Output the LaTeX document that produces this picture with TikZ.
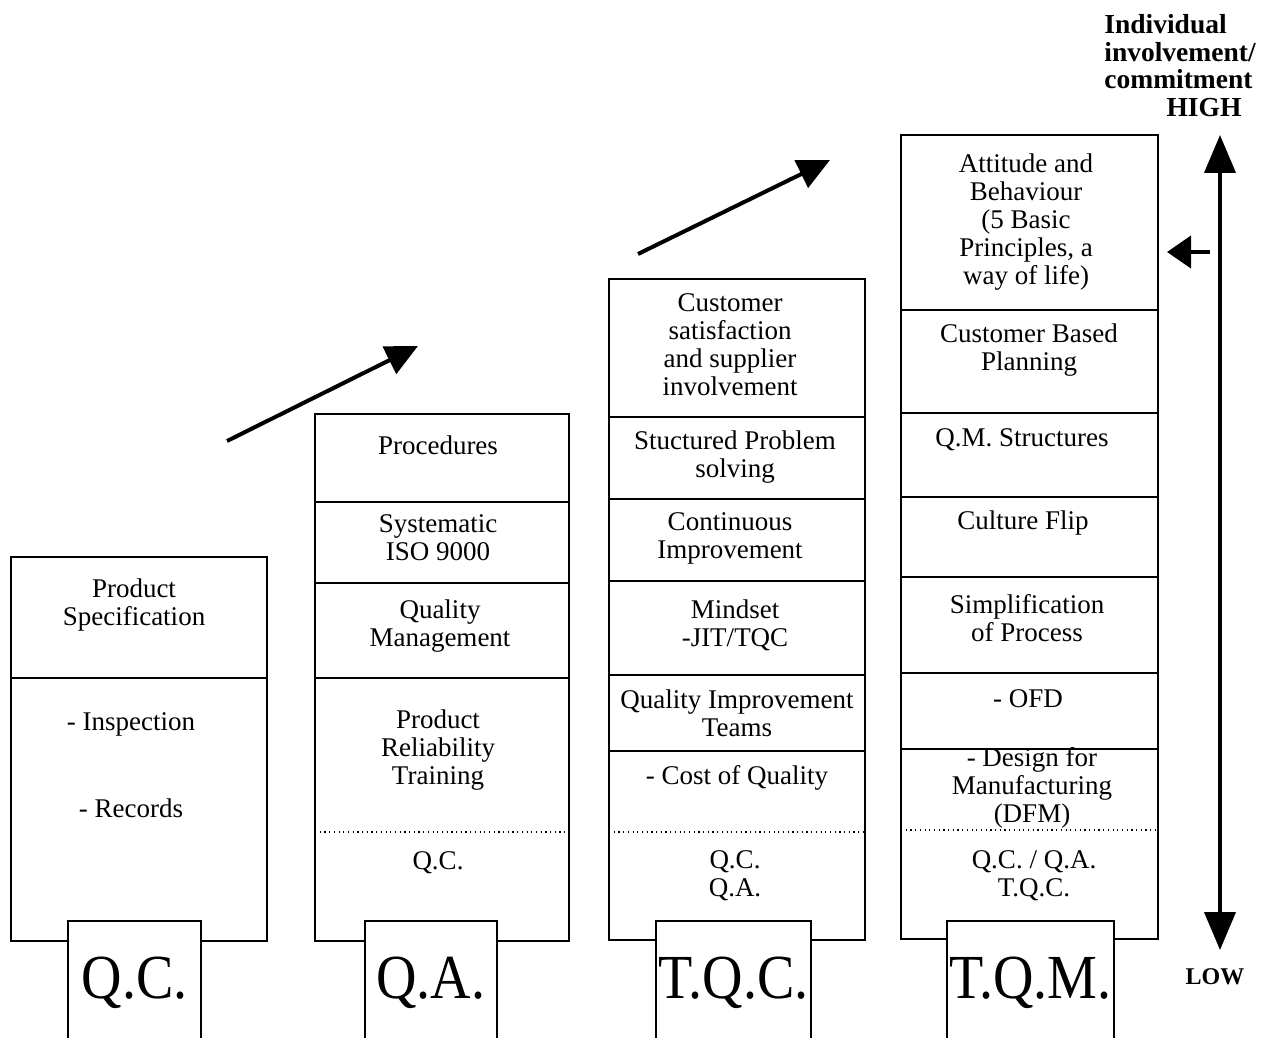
\documentclass[tikz,border=0pt]{standalone}
\usepackage{fontspec}
\setmainfont{Liberation Serif}
\usetikzlibrary{arrows.meta}

\begin{document}
\begin{tikzpicture}[x=1pt, y=-1pt, thick,
        col/.style = {draw, line width=1.3pt},
        sep/.style = {line width=1.2pt, dash pattern=on 1.2pt off 3.5pt},
        txt/.style = {align=center, inner sep=0pt, font=\fontsize{27}{28}\selectfont},
        lbl/.style = {draw, line width=1.3pt, fill=white, minimum height=124pt, inner sep=0pt, font=\fontsize{56}{60}\selectfont},
        hd/.style = {align=left, inner sep=0pt, font=\bfseries\fontsize{27.5}{27.5}\selectfont},
        big/.style = {line width=4pt, -{Triangle[width=30pt,length=32pt]}}]
        \useasboundingbox (0,0) rectangle (1262,1038);
        % Q.C. column
        \draw[col] (11,557) rectangle (267,941);
        \draw[col] (11,678) -- (267,678);
        \node[txt] (c1a) at (134,605) {Product\\Specification};
        \node[txt] (c1b) at (131,724) {- Inspection};
        \node[txt] (c1c) at (131,808) {- Records};
        % Q.A. column
        \draw[col] (315,414) rectangle (569,941);
        \draw[col] (315,502) -- (569,502);
        \draw[col] (315,583) -- (569,583);
        \draw[col] (315,678) -- (569,678);
        \draw[sep] (315,832) -- (569,832);
        \node[txt] (c2a) at (438,445) {Procedures};
        \node[txt] (c2b) at (438,538) {Systematic\\ISO 9000};
        \node[txt] (c2c) at (440,626) {Quality\\Management};
        \node[txt] (c2d) at (438,750) {Product\\Reliability\\Training};
        \node[txt] (c2e) at (438,863) {Q.C.};
        % T.Q.C. column
        \draw[col] (609,279) rectangle (865,940);
        \draw[col] (609,417) -- (865,417);
        \draw[col] (609,499) -- (865,499);
        \draw[col] (609,581) -- (865,581);
        \draw[col] (609,675) -- (865,675);
        \draw[col] (609,751) -- (865,751);
        \draw[sep] (609,832) -- (865,832);
        \node[txt] (c3a) at (730,345) {Customer\\satisfaction\\and supplier\\involvement};
        \node[txt] (c3b) at (735,457) {Stuctured Problem\\solving};
        \node[txt] (c3c) at (730,538) {Continuous\\Improvement};
        \node[txt] (c3d) at (735,625) {Mindset\\-JIT/TQC};
        \node[txt] (c3e) at (737,713) {Quality Improvement\\Teams};
        \node[txt] (c3f) at (737,778) {- Cost of Quality};
        \node[txt] (c3g) at (735,876) {Q.C.\\Q.A.};
        % T.Q.M. column
        \draw[col] (901,135) rectangle (1158,939);
        \draw[col] (901,310) -- (1158,310);
        \draw[col] (901,413) -- (1158,413);
        \draw[col] (901,497) -- (1158,497);
        \draw[col] (901,577) -- (1158,577);
        \draw[col] (901,673) -- (1158,673);
        \draw[col] (901,749) -- (1158,749);
        \draw[sep] (901,830) -- (1158,830);
        \node[txt] (c4a) at (1026,222) {Attitude and\\Behaviour\\(5 Basic\\Principles, a\\way of life)};
        \node[txt] (c4b) at (1029,350) {Customer Based\\Planning};
        \node[txt] (c4c) at (1022,440) {Q.M. Structures};
        \node[txt] (c4d) at (1023,523) {Culture Flip};
        \node[txt] (c4e) at (1027,618) {Simplification\\of Process};
        \node[txt] (c4f) at (1028,699) {- OFD};
        \node[txt] (c4g) at (1032,788) {- Design for\\Manufacturing\\(DFM)};
        \node[txt] (c4h) at (1034,876) {Q.C. / Q.A.\\T.Q.C.};
        % labels
        \node[lbl, minimum width=133pt] (qc) at (134.5,983) {\scalebox{1}[1.12]{Q.C.}};
        \node[lbl, minimum width=132pt] (qa) at (431,983) {\scalebox{1}[1.12]{Q.A.}};
        \node[lbl, minimum width=155pt] (tqc) at (733.5,983) {\scalebox{1}[1.12]{T.Q.C.}};
        \node[lbl, minimum width=167pt] (tqm) at (1030.5,983) {\scalebox{1}[1.12]{T.Q.M.}};
        % arrows
        \coordinate (s1) at (227,441);
        \coordinate (e1) at (418,346);
        \coordinate (s2) at (638,254);
        \coordinate (e2) at (830,160);
        \draw[big] (s1) -- (e1);
        \draw[big] (s2) -- (e2);
        % scale on the right
        \node[hd, anchor=west] (ind) at (1104,52) {Individual\\involvement/\\commitment};
        \node[hd] (high) at (1204,108) {HIGH};
        \node[hd, font=\bfseries\fontsize{24}{26}\selectfont] (low) at (1215,977) {LOW};
        \coordinate (top) at (1220,135);
        \coordinate (bot) at (1220,950);
        \coordinate (ps) at (1210,252);
        \coordinate (pe) at (1167,252);
        \draw[line width=4pt, {Triangle[width=31pt,length=38pt]}-{Triangle[width=31pt,length=38pt]}] (top) -- (bot);
        \draw[line width=4pt, -{Triangle[width=32pt,length=24pt]}] (ps) -- (pe);
    \end{tikzpicture}
\end{document}
